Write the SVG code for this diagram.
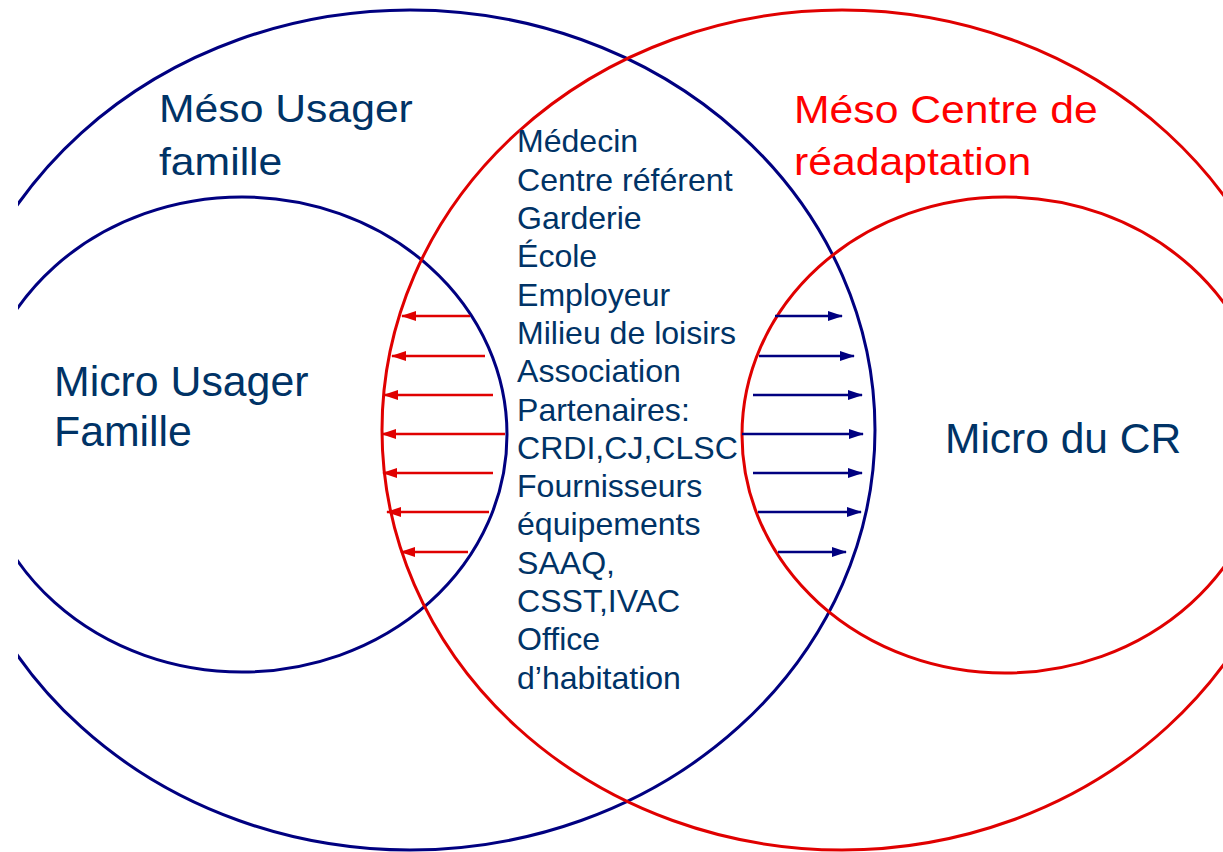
<svg xmlns="http://www.w3.org/2000/svg" width="1223" height="852" viewBox="0 0 1223 852">
<style>
.ring{fill:none;stroke-width:3}
.blue{stroke:#000080}
.red{stroke:#e00000}
.lbl{font-family:"Liberation Sans",Arial,sans-serif;fill:#003366}
.lblred{font-family:"Liberation Sans",Arial,sans-serif;fill:#ff0000}
.ra{stroke:#e00000;stroke-width:2.5;fill:none;marker-end:url(#hr)}
.ba{stroke:#000080;stroke-width:2.5;fill:none;marker-end:url(#hb)}
</style>
<defs>
<clipPath id="cl"><rect x="18" y="0" width="1205" height="852"/></clipPath>
<marker id="hr" markerUnits="userSpaceOnUse" markerWidth="15" markerHeight="10" refX="14" refY="5" orient="auto"><path d="M0,0 L15,5 L0,10 z" fill="#e00000"/></marker>
<marker id="hb" markerUnits="userSpaceOnUse" markerWidth="15" markerHeight="10" refX="14" refY="5" orient="auto"><path d="M0,0 L15,5 L0,10 z" fill="#000080"/></marker>
</defs>
<rect width="1223" height="852" fill="#ffffff"/>
<g id="meso-usager">
<ellipse class="ring blue" cx="410" cy="430" rx="465" ry="420" clip-path="url(#cl)"/>
<text class="lbl" font-size="39" transform="translate(159,122) scale(1.095,1)"><tspan x="0" y="0">Méso Usager</tspan><tspan x="0" y="53">famille</tspan></text>
</g>
<g id="micro-usager">
<ellipse class="ring blue" cx="242" cy="434.5" rx="265" ry="237.5" clip-path="url(#cl)"/>
<text class="lbl" font-size="42.8"><tspan x="54" y="396">Micro Usager</tspan><tspan x="54" y="446">Famille</tspan></text>
</g>
<g id="meso-cr">
<ellipse class="ring red" cx="842" cy="430" rx="460" ry="420"/>
<text class="lblred" font-size="39" transform="translate(794,122.5) scale(1.095,1)"><tspan x="0" y="0">Méso Centre de</tspan><tspan x="0" y="52.5">réadaptation</tspan></text>
</g>
<g id="micro-cr">
<ellipse class="ring red" cx="1005" cy="435" rx="263" ry="238"/>
<text class="lbl" font-size="42.5" x="945" y="453">Micro du CR</text>
</g>
<g id="partenaires">
<text class="lbl" font-size="31.5" transform="translate(517,0) scale(1.018,1)">
<tspan x="0" y="152.5">Médecin</tspan>
<tspan x="0" y="190.8">Centre référent</tspan>
<tspan x="0" y="229.1">Garderie</tspan>
<tspan x="0" y="267.4">École</tspan>
<tspan x="0" y="305.7">Employeur</tspan>
<tspan x="0" y="344">Milieu de loisirs</tspan>
<tspan x="0" y="382.3">Association</tspan>
<tspan x="0" y="420.6">Partenaires:</tspan>
<tspan x="0" y="458.9">CRDI,CJ,CLSC</tspan>
<tspan x="0" y="497.2">Fournisseurs</tspan>
<tspan x="0" y="535.5">équipements</tspan>
<tspan x="0" y="573.8">SAAQ,</tspan>
<tspan x="0" y="612.1">CSST,IVAC</tspan>
<tspan x="0" y="650.4">Office</tspan>
<tspan x="0" y="688.7">d’habitation</tspan>
</text>
</g>
<g id="connectors">
<line class="ra" x1="470" y1="316" x2="402" y2="316"/>
<line class="ra" x1="485" y1="356" x2="392" y2="356"/>
<line class="ra" x1="493" y1="395" x2="384" y2="395"/>
<line class="ra" x1="505" y1="434" x2="382" y2="434"/>
<line class="ra" x1="493" y1="473" x2="383" y2="473"/>
<line class="ra" x1="489" y1="512" x2="387" y2="512"/>
<line class="ra" x1="468" y1="552" x2="401" y2="552"/>
<line class="ba" x1="775" y1="316" x2="842" y2="316"/>
<line class="ba" x1="759" y1="356" x2="854" y2="356"/>
<line class="ba" x1="753" y1="395" x2="862" y2="395"/>
<line class="ba" x1="742" y1="434" x2="863" y2="434"/>
<line class="ba" x1="753" y1="473" x2="862" y2="473"/>
<line class="ba" x1="758" y1="512" x2="861" y2="512"/>
<line class="ba" x1="778" y1="552" x2="846" y2="552"/>
</g>
</svg>
